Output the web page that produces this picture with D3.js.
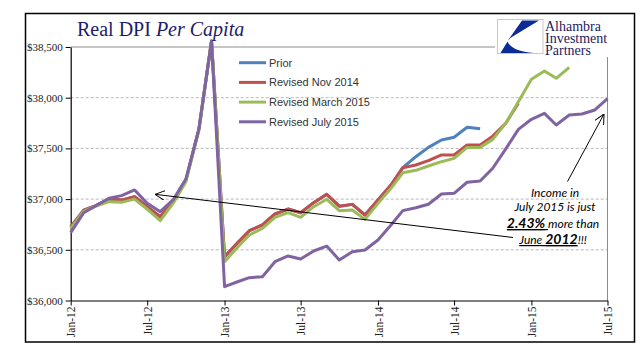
<!DOCTYPE html>
<html>
<head>
<meta charset="utf-8">
<script src="https://cdn.jsdelivr.net/npm/d3@7"></script>
<style>
  html, body { margin: 0; padding: 0; background: #fff; }
  svg { display: block; }
</style>
</head>
<body>
<svg id="chart" width="641" height="358"></svg>
<script>
// ---------------- DATA ----------------
const months = [
  "2012-01","2012-02","2012-03","2012-04","2012-05","2012-06","2012-07","2012-08","2012-09","2012-10","2012-11","2012-12",
  "2013-01","2013-02","2013-03","2013-04","2013-05","2013-06","2013-07","2013-08","2013-09","2013-10","2013-11","2013-12",
  "2014-01","2014-02","2014-03","2014-04","2014-05","2014-06","2014-07","2014-08","2014-09","2014-10","2014-11","2014-12",
  "2015-01","2015-02","2015-03","2015-04","2015-05","2015-06","2015-07"
];

const prior = [
  36725,36892,36935,37000,36990,37024,36925,36826,36980,37185,37690,38560,
  36432,36570,36688,36745,36853,36902,36866,36965,37047,36930,36948,36843,
  36991,37139,37310,37418,37510,37583,37610,37708,37694,null,null,null,
  null,null,null,null,null,null,null
];
const revisedNov2014 = [
  36725,36892,36935,37000,36990,37024,36925,36826,36980,37185,37690,38560,
  36432,36570,36688,36745,36853,36902,36866,36965,37047,36930,36948,36843,
  36991,37139,37310,37336,37379,37435,37435,37534,37534,37621,37748,37945,
  null,null,null,null,null,null,null
];
const revisedMar2015 = [
  36710,36880,36930,36975,36968,37000,36900,36787,36960,37172,37680,38560,
  36383,36525,36646,36712,36820,36866,36820,36925,36998,36886,36892,36800,
  36958,37106,37260,37284,37326,37369,37402,37510,37510,37589,37748,37960,
  38181,38263,38191,38300,null,null,null
];
const revisedJul2015 = [
  36670,36866,36935,37008,37034,37090,36958,36876,36995,37198,37690,38560,
  36136,36185,36225,36235,36383,36439,36409,36488,36537,36399,36481,36498,
  36597,36745,36886,36915,36949,37050,37057,37166,37178,37304,37495,37688,
  37787,37846,37731,37830,37839,37879,37991
];

const seriesNames = ["Prior","Revised Nov 2014","Revised March 2015","Revised July 2015"];
const seriesColors = ["#4f81bd","#c0504d","#9bbb59","#8064a2"];
const seriesValues = [prior, revisedNov2014, revisedMar2015, revisedJul2015];

const yTicks = [36000,36500,37000,37500,38000,38500];
const xTickLabels = ["2012-01","2012-07","2013-01","2013-07","2014-01","2014-07","2015-01","2015-07"];

const titleMain = "Real DPI ";
const titleItalic = "Per Capita";
const logoLines = ["Alhambra","Investment","Partners"];

// ---------------- CHART ----------------
const svg = d3.select("#chart");
const parse = d3.timeParse("%Y-%m");
const dates = months.map(parse);

const pLeft = 70.7, pRight = 607.5, pTop = 47, pBottom = 300.5;

const x = d3.scaleTime().domain([dates[0], dates[dates.length-1]]).range([pLeft, pRight]);
const y = d3.scaleLinear().domain([36000, 38500]).range([pBottom, pTop]);

// outer border
svg.append("rect").attr("x",25.5).attr("y",13.5).attr("width",609).attr("height",328.5)
  .attr("fill","#fff").attr("stroke","#000").attr("stroke-width",1.5);

// gridlines
svg.append("g").selectAll("line").data(yTicks.filter(d => d > 36000 && d < 38500)).join("line")
  .attr("x1", pLeft).attr("x2", pRight)
  .attr("y1", d => y(d)).attr("y2", d => y(d))
  .attr("stroke","#a6a6a6").attr("stroke-width",0.8).attr("stroke-dasharray","3,2");

// plot border top & right
svg.append("line").attr("x1",pLeft).attr("x2",pRight).attr("y1",y(38500)).attr("y2",y(38500))
  .attr("stroke","#8c8c8c").attr("stroke-width",1);
svg.append("line").attr("x1",pRight).attr("x2",pRight).attr("y1",y(38500)).attr("y2",pBottom)
  .attr("stroke","#8c8c8c").attr("stroke-width",1);

// axes
const yAxis = d3.axisLeft(y).tickValues(yTicks).tickFormat(d3.format("$,")).tickSize(5).tickSizeOuter(0);
const gy = svg.append("g").attr("transform",`translate(${pLeft},0)`).call(yAxis);
gy.select(".domain").attr("stroke","#000").attr("stroke-width",1.2);
gy.selectAll(".tick line").attr("stroke","#000");
gy.selectAll(".tick text").attr("x",-8).attr("font-family","Liberation Serif, serif").attr("font-size",11).attr("fill","#222");

const xAxis = d3.axisBottom(x).tickValues(xTickLabels.map(parse)).tickFormat(d3.timeFormat("%b-%y")).tickSize(5).tickSizeOuter(0);
const gx = svg.append("g").attr("transform",`translate(0,${pBottom})`).call(xAxis);
gx.select(".domain").attr("stroke","#000").attr("stroke-width",1.2);
gx.selectAll(".tick line").attr("stroke","#000");
gx.selectAll(".tick text")
  .attr("transform","rotate(-90)").attr("x",-6).attr("y",0).attr("dy","0.35em")
  .style("text-anchor","end")
  .attr("font-family","Liberation Serif, serif").attr("font-size",11.5).attr("fill","#222");

// lines
const line = d3.line().defined(d => d.v != null).x(d => x(d.date)).y(d => y(d.v));
seriesValues.forEach((vals, i) => {
  const pts = vals.map((v, j) => ({date: dates[j], v}));
  svg.append("path").datum(pts).attr("d", line).attr("fill","none")
    .attr("stroke", seriesColors[i]).attr("stroke-width",3)
    .attr("stroke-linejoin","round").attr("stroke-linecap","butt");
});

// legend
const lg = svg.append("g");
seriesNames.forEach((name, i) => {
  const ly = 62.7 + i * 19.7;
  lg.append("line").attr("x1",239).attr("x2",266).attr("y1",ly).attr("y2",ly)
    .attr("stroke",seriesColors[i]).attr("stroke-width",3);
  lg.append("text").attr("x",269).attr("y",ly).attr("dy","0.35em")
    .attr("font-family","Liberation Sans, Arial, sans-serif").attr("font-size",11).attr("fill","#333")
    .text(name);
});

// title
const t = svg.append("text").attr("x",77).attr("y",35.5)
  .attr("font-family","Liberation Serif, serif").attr("font-size",20).attr("fill","#1c1c6e");
t.append("tspan").text(titleMain);
t.append("tspan").attr("font-style","italic").text(titleItalic);

// logo
svg.append("rect").attr("x",495).attr("y",17).attr("width",124).attr("height",40).attr("fill","#fff");
svg.append("rect").attr("x",497.5).attr("y",19.5).attr("width",45.5).attr("height",34)
  .attr("fill","#fff").attr("stroke","#c8c8c8").attr("stroke-width",1);
svg.append("path").attr("d","M522,20.5 L539,20.5 L511,37.5 L507.5,41 Z").attr("fill","#0d2b96");
svg.append("path").attr("d","M507.5,41.5 Q512,51.5 534,53 L500.5,53 Z").attr("fill","#0d2b96");
const logoText = svg.append("text")
  .attr("font-family","Liberation Serif, serif").attr("font-size",14).attr("fill","#1c1c5e");
logoLines.forEach((s, i) => {
  logoText.append("tspan").attr("x",545).attr("y",31.2 + i * 12).text(s);
});

// annotation arrows
const defs = svg.append("defs");
defs.append("marker").attr("id","arr").attr("viewBox","0 0 10 10").attr("refX",10).attr("refY",5)
  .attr("markerWidth",10).attr("markerHeight",10).attr("markerUnits","userSpaceOnUse").attr("orient","auto")
  .append("path").attr("d","M0,0 L10,5 L0,10").attr("fill","none").attr("stroke","#000").attr("stroke-width",1);

svg.append("line").attr("x1",513).attr("y1",237.5).attr("x2",155).attr("y2",194.3)
  .attr("stroke","#000").attr("stroke-width",1).attr("marker-end","url(#arr)");
svg.append("line").attr("x1",567.5).attr("y1",181.5).attr("x2",604).attr("y2",114)
  .attr("stroke","#000").attr("stroke-width",1).attr("marker-end","url(#arr)");

// annotation text
const af = "Lato, 'Open Sans', sans-serif";
const ann = svg.append("g").attr("font-family",af).attr("font-style","italic").attr("fill","#000").attr("text-anchor","middle");
ann.append("text").attr("x",555).attr("y",197).attr("font-size",12).text("Income in");
ann.append("text").attr("x",555).attr("y",210.5).attr("font-size",12).text("July 2015 is just");
const l3 = ann.append("text").attr("x",553).attr("y",228).attr("font-size",12);
l3.append("tspan").attr("font-size",14).attr("font-weight","bold").style("text-decoration","underline").text("2.43%");
l3.append("tspan").style("text-decoration","underline").text(" ");
l3.append("tspan").text("more than");
const l4 = ann.append("text").attr("x",553).attr("y",244).attr("font-size",12);
l4.append("tspan").style("text-decoration","underline").text("June ");
l4.append("tspan").attr("font-size",14).attr("font-weight","bold").style("text-decoration","underline").text("2012");
l4.append("tspan").text("!!!");
</script>
</body>
</html>
